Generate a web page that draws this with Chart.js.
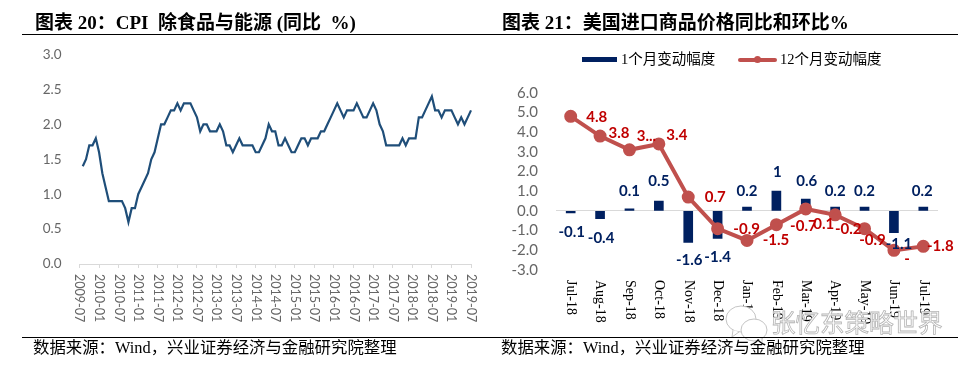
<!DOCTYPE html>
<html>
<head>
<meta charset="utf-8">
<title>CPI</title>
<script src="https://cdn.jsdelivr.net/npm/chart.js@4/dist/chart.umd.min.js"></script>
<style>
  html, body { margin: 0; padding: 0; background: #fff; }
  #page { position: relative; width: 970px; height: 366px; overflow: hidden; }
  canvas { position: absolute; top: 0; }
  .txt { position: absolute; white-space: pre; color: #000; font-family: "Liberation Serif", "Noto Sans CJK SC", serif; }
  .title { top: 12px; font-size: 19px; line-height: 22px; font-weight: bold; }
  .source { top: 338px; font-size: 16.4px; line-height: 20px; }
  .rule { position: absolute; left: 22px; width: 936px; height: 1px; background: #000; }
  .legend { top: 50px; font-size: 14.5px; line-height: 18px; }
  .swatch { position: absolute; }
  #mark { position: absolute; left: 771px; top: 306px; font: 24.5px/32px "Noto Sans CJK SC", sans-serif; color: #fff; -webkit-text-stroke: 0.8px #b4b4b4; white-space: pre; }
</style>
</head>
<body>
<div id="page">
  <canvas id="coreCpiChart" width="485" height="366" style="left:0"></canvas>
  <canvas id="importChart" width="485" height="366" style="left:485px"></canvas>

  <svg style="position:absolute;left:724px;top:304px" width="46" height="40" fill="#fff" stroke="#c4c4c4" stroke-width="1">
    <ellipse cx="17" cy="15" rx="15" ry="13"/>
    <path d="M9 26 L8 33 L15 28"/>
    <ellipse cx="30" cy="26" rx="13" ry="11"/>
    <path d="M35 36 L38 40 L38 34"/>
  </svg>
  <div id="mark">张忆东策略世界</div>

  <div class="txt title" style="left:35px">图表 20：CPI  除食品与能源 (同比  %)</div>
  <div class="txt title" style="left:502px">图表 21：美国进口商品价格同比和环比%</div>
  <div class="rule" style="top:34px"></div>
  <div class="rule" style="top:337px"></div>
  <div class="txt source" style="left:33px">数据来源：Wind，兴业证券经济与金融研究院整理</div>
  <div class="txt source" style="left:501px">数据来源：Wind，兴业证券经济与金融研究院整理</div>

  <div class="swatch" style="left:582px;top:57px;width:35px;height:5px;background:#002060"></div>
  <div class="txt legend" style="left:621px">1个月变动幅度</div>
  <div class="swatch" style="left:738px;top:58px;width:39px;height:4px;background:#c0504d;border-radius:2px"></div>
  <div class="swatch" style="left:754px;top:56px;width:7px;height:7px;background:#c0504d;border-radius:50%"></div>
  <div class="txt legend" style="left:780px">12个月变动幅度</div>
</div>

<script>
"use strict";

// --- left chart: US core CPI, monthly ---
const CPI_MONTHS = [];
for (let y = 2009; y <= 2019; y++) {
    for (let m = 1; m <= 12; m++) {
        if ((y === 2009 && m < 7) || (y === 2019 && m > 7)) continue;
        CPI_MONTHS.push(`${y}-${String(m).padStart(2, '0')}`);
    }
}
const CPI_VALUES = [
    null, 1.4, 1.5, 1.7, 1.7, 1.8,
    1.6, 1.3, 1.1, 0.9, 0.9, 0.9, 0.9, 0.9, 0.8, 0.6, 0.8, 0.8,
    1.0, 1.1, 1.2, 1.3, 1.5, 1.6, 1.8, 2.0, 2.0, 2.1, 2.2, 2.2,
    2.3, 2.2, 2.3, 2.3, 2.3, 2.2, 2.1, 1.9, 2.0, 2.0, 1.9, 1.9,
    1.9, 2.0, 1.9, 1.7, 1.7, 1.6, 1.7, 1.8, 1.7, 1.7, 1.7, 1.7,
    1.6, 1.6, 1.7, 1.8, 2.0, 1.9, 1.9, 1.7, 1.7, 1.8, 1.7, 1.6,
    1.6, 1.7, 1.8, 1.8, 1.7, 1.8, 1.8, 1.8, 1.9, 1.9, 2.0, 2.1,
    2.2, 2.3, 2.2, 2.1, 2.2, 2.2, 2.2, 2.3, 2.2, 2.1, 2.1, 2.2,
    2.3, 2.2, 2.0, 1.9, 1.7, 1.7, 1.7, 1.7, 1.7, 1.8, 1.7, 1.8,
    1.8, 1.8, 2.1, 2.1, 2.2, 2.3, 2.4, 2.2, 2.2, 2.1, 2.2, 2.2,
    2.2, 2.1, 2.0, 2.1, 2.0, 2.1, 2.2
];

// --- right chart: import prices ---
const IMPORT_MONTHS = ['Jul-18', 'Aug-18', 'Sep-18', 'Oct-18', 'Nov-18', 'Dec-18', 'Jan-19', 'Feb-19', 'Mar-19', 'Apr-19', 'May-19', 'Jun-19', 'Jul-19'];
const ONE_MONTH = [-0.1, -0.4, 0.1, 0.5, -1.6, -1.4, 0.2, 1, 0.6, 0.2, 0.2, -1.1, 0.2];
const TWELVE_MONTH = [4.8, 3.8, 3.1, 3.4, 0.7, -0.9, -1.5, -0.7, 0.1, -0.2, -0.9, -2.0, -1.8];
// what the picture actually prints (two labels got cut off by the chart tool)
const ONE_MONTH_TEXT = ['-0.1', '-0.4', '0.1', '0.5', '-1.6', '-1.4', '0.2', '1', '0.6', '0.2', '0.2', '-1.1', '0.2'];
const TWELVE_MONTH_TEXT = ['4.8', '3.8', '3...', '3.4', '0.7', '-0.9', '-1.5', '-0.7', '0.1', '-0.2', '-0.9', '-', '-1.8'];

// label nudges from the data point, px
const BAR_NUDGE = [[1, 19], [1, 19], [0, -18], [0, -20], [1, 18], [0, 19], [0, -16], [1, -19], [1, -18], [0, -16], [0, -16], [5, 12], [-1, -16]];
const LINE_NUDGE = [[26, 1], [19, -3], [17, -14], [18, -9], [27, 0], [29, 1], [29, 0], [27, 1], [18, 15], [13, 14], [8, 12], [13, 9], [17, 0]];

const AXIS_GRAY = '#d9d9d9';
const TICK_GRAY = '#666666';
const RED_LABEL = '#c00000';
const NAVY = '#002060';

// Chart.js right-aligns negative rotations, so the top-down date labels are drawn here
function downwardTicks(font, color, gap) {
    return {
        id: 'downwardTicks',
        afterDraw(chart) {
            const { ctx, chartArea, scales } = chart;
            const xs = scales.x;
            ctx.save();
            ctx.font = font;
            ctx.fillStyle = color;
            ctx.textAlign = 'left';
            ctx.textBaseline = 'middle';
            xs.ticks.forEach((tick, i) => {
                ctx.save();
                ctx.translate(xs.getPixelForTick(i), chartArea.bottom + gap);
                ctx.rotate(Math.PI / 2);
                ctx.fillText(xs.getLabelForValue(tick.value), 0, 0);
                ctx.restore();
            });
            ctx.restore();
        }
    };
}

const pointLabels = {
    id: 'pointLabels',
    afterDatasetsDraw(chart) {
        const { ctx } = chart;
        const groups = [
            { meta: chart.getDatasetMeta(0), text: ONE_MONTH_TEXT, nudge: BAR_NUDGE, color: NAVY },
            { meta: chart.getDatasetMeta(1), text: TWELVE_MONTH_TEXT, nudge: LINE_NUDGE, color: RED_LABEL }
        ];
        ctx.save();
        ctx.font = 'bold 15px Lato, sans-serif';
        ctx.textAlign = 'center';
        ctx.textBaseline = 'middle';
        groups.forEach(g => {
            ctx.fillStyle = g.color;
            g.meta.data.forEach((el, i) => {
                ctx.fillText(g.text[i], el.x + g.nudge[i][0], el.y + g.nudge[i][1]);
            });
        });
        ctx.restore();
    }
};

new Chart(document.getElementById('coreCpiChart'), {
    type: 'line',
    data: {
        labels: CPI_MONTHS,
        datasets: [{
            data: CPI_VALUES,
            borderColor: '#1f4e79',
            borderWidth: 2.2,
            pointRadius: 0,
            tension: 0,
            spanGaps: false
        }]
    },
    options: {
        responsive: false,
        animation: false,
        layout: { padding: { left: 0, top: 54.5, right: 14, bottom: 102 } },
        plugins: { legend: { display: false }, tooltip: { enabled: false } },
        scales: {
            x: {
                type: 'category',
                offset: false,
                afterBuildTicks: s => { s.ticks = s.ticks.filter(t => t.value % 6 === 0); },
                afterFit: s => { s.height = 0; },
                ticks: { display: false, autoSkip: false },
                grid: { drawOnChartArea: false, drawTicks: true, tickLength: 4, tickColor: AXIS_GRAY },
                border: { color: AXIS_GRAY }
            },
            y: {
                min: 0,
                max: 3,
                afterFit: s => { s.width = 79.5; },
                ticks: { stepSize: 0.5, padding: 18, color: TICK_GRAY, font: { family: 'Lato', size: 13.5 }, callback: v => v.toFixed(1) },
                grid: { display: false, drawTicks: false },
                border: { display: false }
            }
        }
    },
    plugins: [downwardTicks('12.5px Lato', TICK_GRAY, 10)]
});

new Chart(document.getElementById('importChart'), {
    data: {
        labels: IMPORT_MONTHS,
        datasets: [
            {
                type: 'bar',
                label: '1个月变动幅度',
                data: ONE_MONTH,
                backgroundColor: NAVY,
                barThickness: 9,
                order: 2
            },
            {
                type: 'line',
                label: '12个月变动幅度',
                data: TWELVE_MONTH,
                borderColor: '#c0504d',
                backgroundColor: '#c0504d',
                borderWidth: 4,
                pointRadius: 4.5,
                tension: 0,
                order: 1
            }
        ]
    },
    options: {
        responsive: false,
        animation: false,
        layout: { padding: { left: 0, top: 92.7, right: 32, bottom: 96 } },
        plugins: { legend: { display: false }, tooltip: { enabled: false } },
        scales: {
            x: {
                afterFit: s => { s.height = 0; },
                ticks: { display: false, autoSkip: false },
                grid: { display: false },
                border: { display: false }
            },
            y: {
                min: -3,
                max: 6,
                afterFit: s => { s.width = 71; },
                ticks: { autoSkip: false, stepSize: 1, padding: 18, color: TICK_GRAY, font: { family: 'Lato', size: 15 }, callback: v => v.toFixed(1) },
                grid: {
                    drawTicks: false,
                    color: c => (c.tick.value === 0 ? AXIS_GRAY : 'transparent')
                },
                border: { display: false }
            }
        }
    },
    plugins: [pointLabels, downwardTicks('14px "Liberation Serif"', '#000', 10)]
});
</script>
</body>
</html>
